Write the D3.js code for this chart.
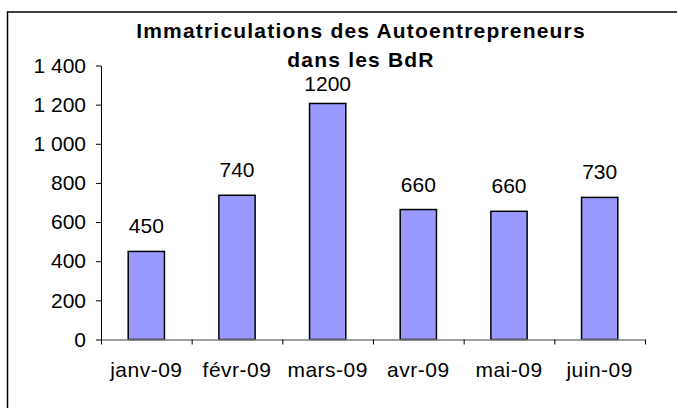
<!DOCTYPE html>
<html>
<head>
<meta charset="utf-8">
<script src="https://cdn.jsdelivr.net/npm/d3@7"></script>
<style>
  body { margin: 0; background: #fff; }
  svg { display: block; font-family: "Liberation Sans", Arial, sans-serif; }
  .axis text { font-size: 21px; fill: #000; }
  .axis .domain { stroke: #000; }
  .axis line { stroke: #000; }
  .x.axis .domain { stroke: #808080; stroke-width: 1.5; }
  .bar { fill: #9999ff; stroke: #000; stroke-width: 1.5; }
  .bar-label { font-size: 21px; text-anchor: middle; }
  .title { font-size: 21px; font-weight: bold; text-anchor: middle; letter-spacing: 1.2px; }
</style>
</head>
<body>
<svg id="chart"></svg>
<script>
var months = ["janv-09", "févr-09", "mars-09", "avr-09", "mai-09", "juin-09"]
var counts = [450, 737, 1206, 664, 655, 726]
var countLabels = ["450", "740", "1200", "660", "660", "730"]
var yTicks = [0, 200, 400, 600, 800, 1000, 1200, 1400]
var titleLines = ["Immatriculations des Autoentrepreneurs", "dans les BdR"]

function renderChart() {
  var width = 677
  var height = 408

  var margin = {
    top: 65.5,
    right: 32,
    bottom: 68.5,
    left: 101
  }
  var plotW = width - margin.left - margin.right
  var plotH = height - margin.top - margin.bottom

  var svg = d3.select("#chart")
    .attr("width", width)
    .attr("height", height)

  // chart area frame, runs off the right and bottom edges
  svg.append("rect")
    .attr("x", 7.5)
    .attr("y", 12)
    .attr("width", 720)
    .attr("height", 420)
    .attr("fill", "none")
    .attr("stroke", "#000")
    .attr("stroke-width", 1.5)

  svg.selectAll(".title")
    .data(titleLines)
    .enter().append("text")
    .attr("class", "title")
    .attr("x", 361)
    .attr("y", function(d, i) { return 38 + i * 29 })
    .text(function(d) { return d })

  var g = svg.append("g")
    .attr("transform", "translate(" + margin.left + "," + margin.top + ")")

  var y = d3.scaleLinear()
    .domain([0, 1400])
    .range([plotH, 0])

  var x = d3.scaleBand()
    .domain(months)
    .range([0, plotW])
    .paddingInner(0.6)
    .paddingOuter(0.3)

  // boundaries between categories
  var xEdge = d3.scaleLinear()
    .domain([0, months.length])
    .range([0, plotW])

  var fr = d3.formatLocale({ decimal: ",", thousands: " ", grouping: [3], currency: ["", " €"] })

  g.append("g")
    .attr("class", "y axis")
    .call(d3.axisLeft(y)
      .tickValues(yTicks)
      .tickSize(5)
      .tickSizeOuter(0)
      .tickPadding(10)
      .tickFormat(fr.format(",")))

  g.selectAll(".bar")
    .data(counts)
    .enter().append("rect")
    .attr("class", "bar")
    .attr("x", function(d, i) { return x(months[i]) })
    .attr("y", function(d) { return y(d) })
    .attr("width", x.bandwidth())
    .attr("height", function(d) { return y(0) - y(d) })

  // labels sit above the bars but stay inside the plot area
  g.selectAll(".bar-label")
    .data(counts)
    .enter().append("text")
    .attr("class", "bar-label")
    .attr("x", function(d, i) { return x(months[i]) + x.bandwidth() / 2 })
    .attr("y", function(d) { return Math.max(y(d) - 18, 25) })
    .text(function(d, i) { return countLabels[i] })

  g.append("g")
    .attr("class", "x axis")
    .attr("transform", "translate(0," + plotH + ")")
    .call(d3.axisBottom(xEdge)
      .tickValues(d3.range(months.length + 1))
      .tickSize(5)
      .tickSizeOuter(0)
      .tickFormat(""))

  g.append("g")
    .attr("class", "x axis labels")
    .attr("transform", "translate(0," + plotH + ")")
    .call(d3.axisBottom(x).tickSize(0).tickPadding(23))
    .call(function(a) { a.select(".domain").remove() })
    .selectAll("text")
    .attr("letter-spacing", "0.5px")

  g.select(".y.axis .domain").raise()
}

renderChart()
</script>
</body>
</html>
